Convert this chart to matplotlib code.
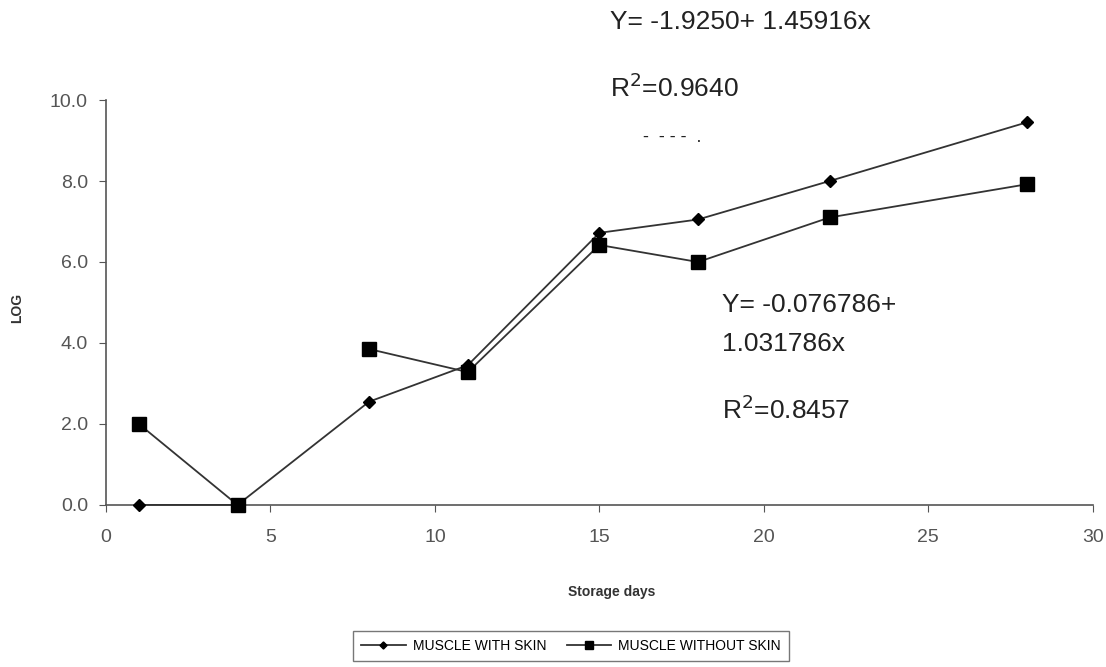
import numpy as np
import matplotlib
matplotlib.use("Agg")
import matplotlib.pyplot as plt

plt.rcParams['font.family'] = ['Liberation Sans', 'DejaVu Sans']

days = [1, 4, 8, 11, 15, 18, 22, 28]
with_skin = [0.0, 0.0, 2.55, 3.45, 6.72, 7.05, 8.0, 9.45]
without_skin = [2.0, 0.0, 3.85, 3.28, 6.42, 6.0, 7.1, 7.92]
x_ticks = [0, 5, 10, 15, 20, 25, 30]
y_ticks = [0, 2, 4, 6, 8, 10]

fig = plt.figure(figsize=(11.06, 6.67), dpi=100)
ax = fig.add_axes([0.0958, 0.243, 0.8922, 0.607])

line_kw = dict(color='#333333', lw=1.3, clip_on=False, zorder=4)
l1, = ax.plot(days, with_skin, marker='D', ms=6, mfc='black', mec='black', **line_kw)
# square series: no connecting segment between day 4 and day 8
ax.plot(days[:2], without_skin[:2], marker='s', ms=10, mfc='black', mec='black', **line_kw)
l2, = ax.plot(days[2:], without_skin[2:], marker='s', ms=10, mfc='black', mec='black', **line_kw)

ax.set_xlim(0, 30)
ax.set_ylim(0, 10)
ax.set_xticks(x_ticks)
ax.set_yticks(y_ticks)
ax.set_yticklabels([f"{v:.1f}" for v in y_ticks])
ax.tick_params(axis='both', direction='out', length=5, color='#555555', labelcolor='#555555', labelsize=14)
ax.tick_params(axis='y', pad=8)
ax.tick_params(axis='x', pad=12)
for s in ['top', 'right']:
    ax.spines[s].set_visible(False)
for s in ['left', 'bottom']:
    ax.spines[s].set_color('#555555')
    ax.spines[s].set_linewidth(1.2)

ax.set_xlabel('Storage days', fontsize=10, fontweight='bold', color='#333333')
ax.xaxis.set_label_coords((612 - 106) / 987, -(585 - 505) / 405)
ax.set_ylabel('LOG', fontsize=10, fontweight='bold', color='#333333')
ax.yaxis.set_label_coords(-(106 - 24) / 987, (505 - 308) / 405)

tk = dict(fontsize=19, color='#222222', va='center', ha='left')
fig.text(610/1106, 1-22/667, 'Y= -1.9250+ 1.45916x', **tk)
fig.text(610/1106, 1-88/667, 'R$^{2}$=0.9640', **tk)
fig.text(643/1106, 1-138/667, '-  - - -  .', fontsize=13, color='#222222', va='center', ha='left')
fig.text(722/1106, 1-305/667, 'Y= -0.076786+', **tk)
fig.text(722/1106, 1-344/667, '1.031786x', **tk)
fig.text(722/1106, 1-410/667, 'R$^{2}$=0.8457', **tk)

leg = fig.legend([l1, l2], ['MUSCLE WITH SKIN', 'MUSCLE WITHOUT SKIN'],
                 loc='center', bbox_to_anchor=(571/1106, 1-646/667), ncol=2,
                 fontsize=10, frameon=True, fancybox=False, edgecolor='#555555',
                 handlelength=3.2, columnspacing=1.5, markerscale=0.6, borderpad=0.6,
                 handletextpad=0.5)
leg.get_frame().set_linewidth(1.0)

fig.savefig('out.png', dpi=100)
